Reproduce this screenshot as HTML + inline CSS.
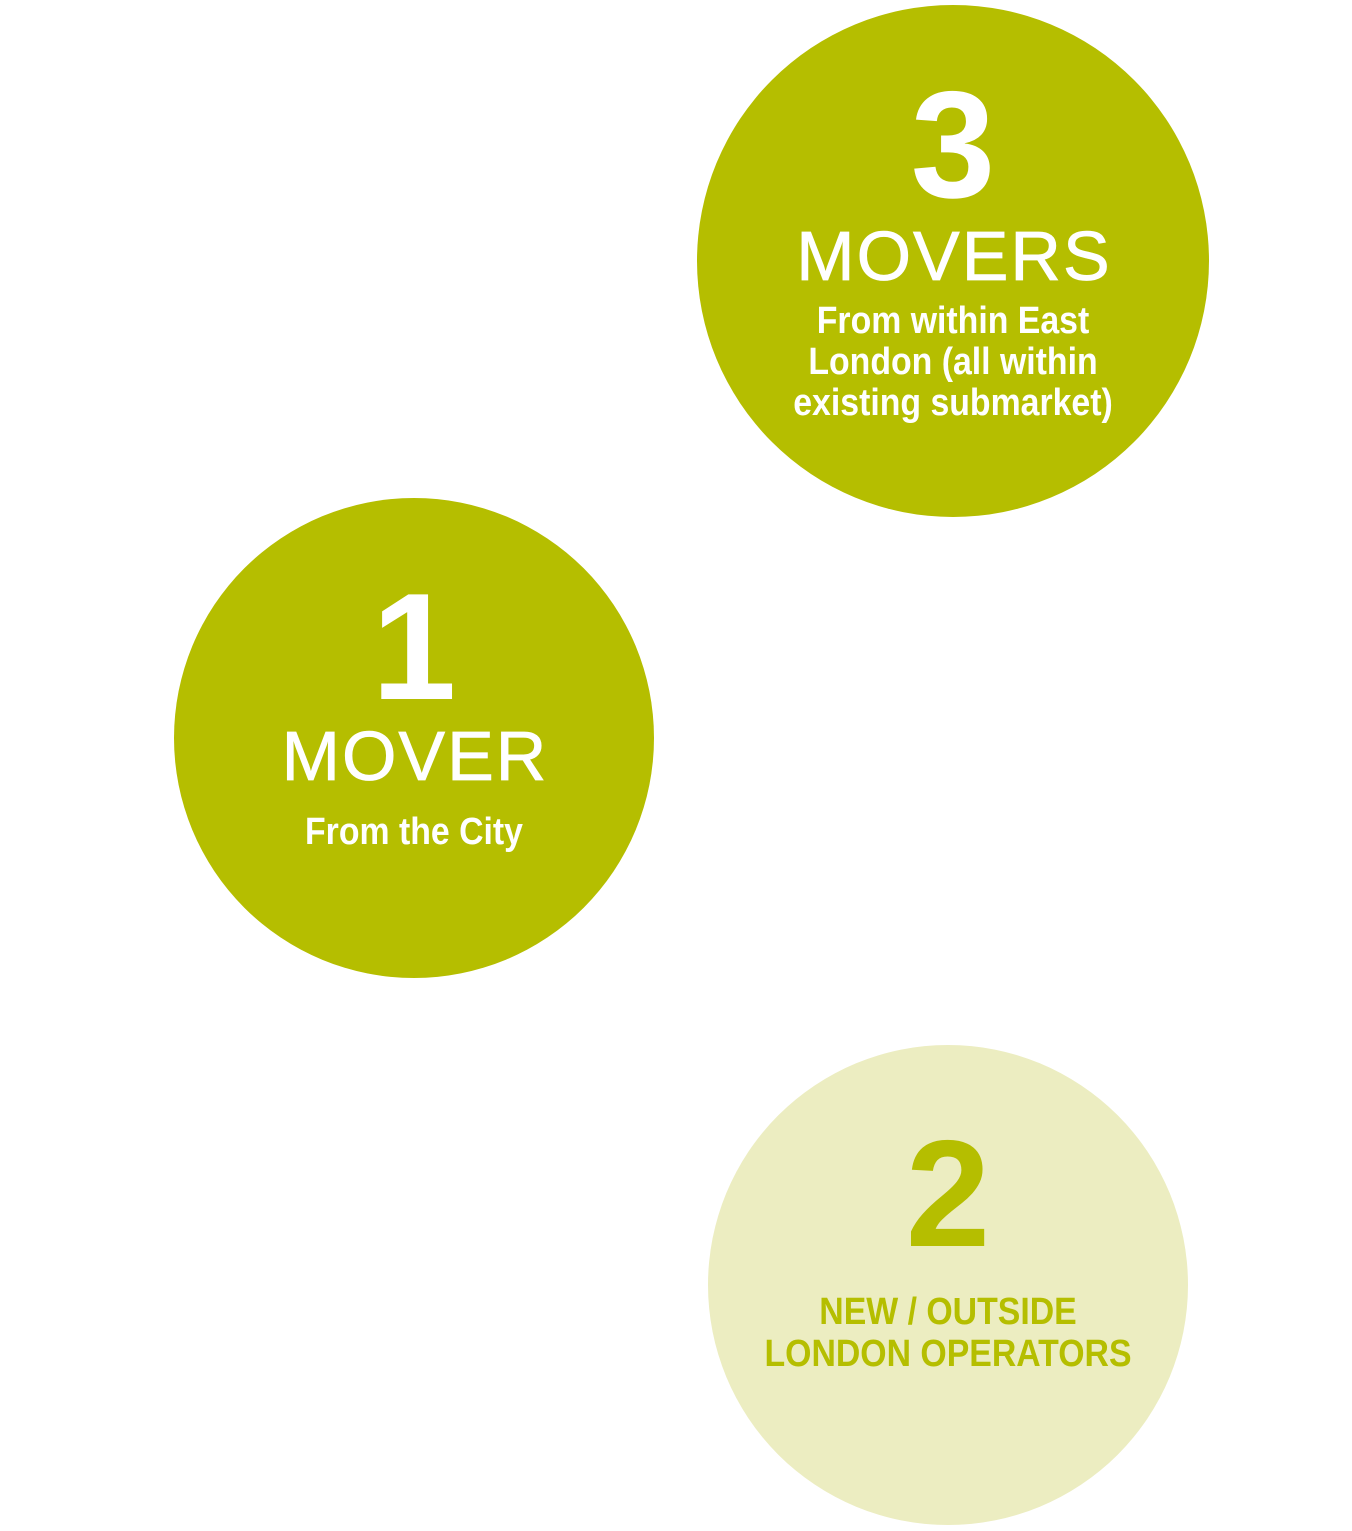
<!DOCTYPE html>
<html><head><meta charset="utf-8"><style>
html,body{margin:0;padding:0;background:#fff;}
body{width:1352px;height:1531px;position:relative;overflow:hidden;font-family:"Liberation Sans",Arial,sans-serif;}
.c{position:absolute;border-radius:50%;}
.t{position:absolute;text-align:center;white-space:nowrap;line-height:1;}
.n{font-weight:bold;}
.m{letter-spacing:2px;-webkit-text-stroke:0.8px #fff;}
.sub{font-weight:bold;transform:scaleX(0.89);transform-origin:center top;}
</style></head><body>
<div class="c" style="left:697px;top:5px;width:512px;height:512px;background:#b5be00"></div>
<div class="c" style="left:174px;top:498px;width:480px;height:480px;background:#b5be00"></div>
<div class="c" style="left:708px;top:1045px;width:480px;height:480px;background:#ecedc1"></div>

<div class="t n" style="left:753px;width:400px;top:69px;font-size:152px;color:#fff">3</div>
<div class="t m" style="left:753px;width:402px;top:221px;font-size:70px;color:#fff">MOVERS</div>
<div class="t sub" style="left:753px;width:400px;top:301px;font-size:38px;line-height:41px;color:#fff">From within East<br>London (all within<br>existing submarket)</div>

<div class="t n" style="left:214px;width:400px;top:571px;font-size:152px;color:#fff">1</div>
<div class="t m" style="left:214px;width:402px;top:721px;font-size:70px;color:#fff">MOVER</div>
<div class="t sub" style="left:214px;width:400px;top:813px;font-size:38px;color:#fff">From the City</div>

<div class="t n" style="left:748px;width:400px;top:1118px;font-size:152px;color:#b5be00">2</div>
<div class="t sub" style="left:698px;width:500px;top:1291px;font-size:38px;line-height:42px;color:#b5be00">NEW / OUTSIDE<br>LONDON OPERATORS</div>
</body></html>
